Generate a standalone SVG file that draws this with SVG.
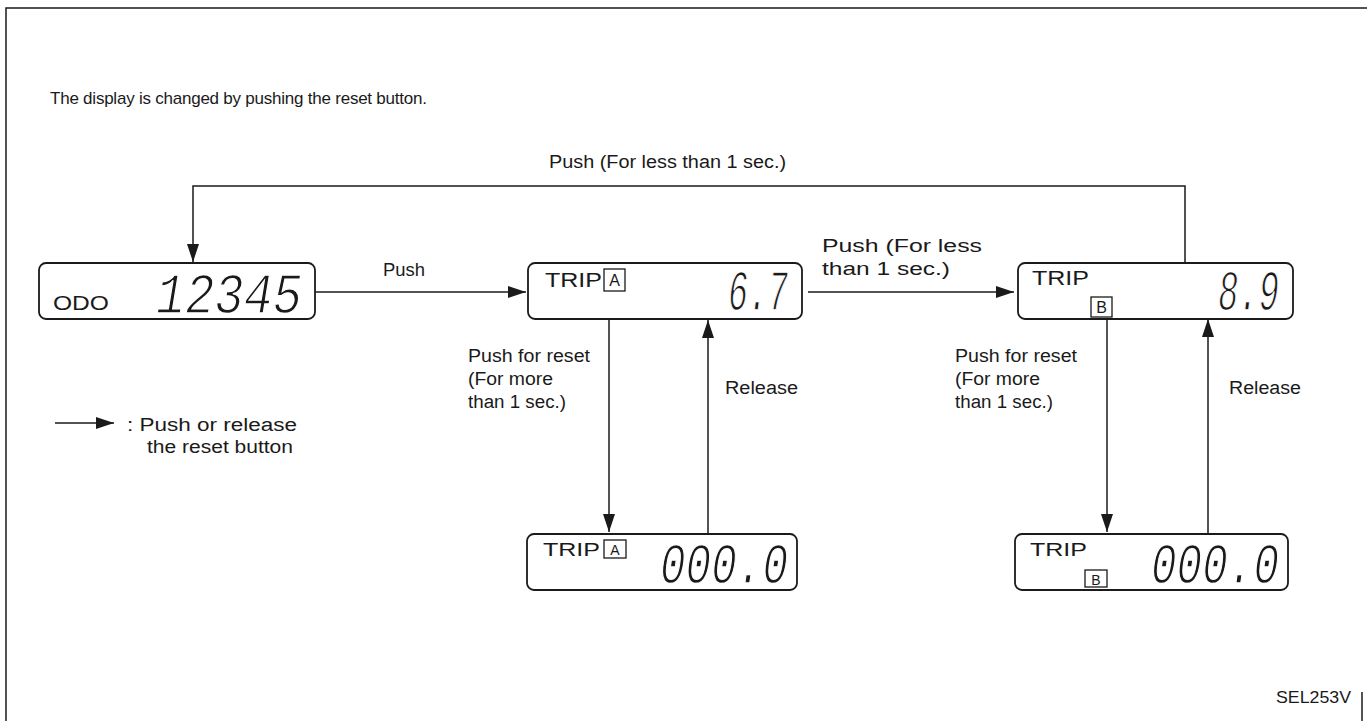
<svg xmlns="http://www.w3.org/2000/svg" width="1367" height="721" viewBox="0 0 1367 721">
<defs>
<marker id="arr" markerUnits="userSpaceOnUse" markerWidth="18" markerHeight="12" refX="18" refY="6" orient="auto">
<path d="M0,0 L18,6 L0,12 z" fill="#1a1a1a"/>
</marker>
<style>
.t{font-family:"Liberation Sans",Arial,Helvetica,sans-serif;fill:#1a1a1a;}
.lbl{font-size:18px;}
.box{fill:#fff;stroke:#1a1a1a;stroke-width:1.8;}
.seg{font-family:"Liberation Mono","DejaVu Sans Mono",monospace;font-style:italic;font-size:58px;fill:#1a1a1a;stroke:#fff;stroke-width:1.4;}
.tag{fill:none;stroke:#1a1a1a;stroke-width:1.3;}
.ln{fill:none;stroke:#1a1a1a;stroke-width:1.5;}
</style>
</defs>
<rect width="1367" height="721" fill="#fff"/>
<g id="frame">
<path class="ln" d="M6,721 V8 H1367"/>
<path class="ln" d="M1362,692 V721"/>
</g>
<text class="t" x="50" y="104" font-size="17" textLength="377" lengthAdjust="spacing">The display is changed by pushing the reset button.</text>
<g id="connectors">
<path class="ln" d="M315,292 H526" marker-end="url(#arr)"/>
<path class="ln" d="M808,292 H1014" marker-end="url(#arr)"/>
<path class="ln" d="M1185,263 V186 H193 V262" marker-end="url(#arr)"/>
<path class="ln" d="M609,319 V532" marker-end="url(#arr)"/>
<path class="ln" d="M708,534 V320" marker-end="url(#arr)"/>
<path class="ln" d="M1107,318 V532" marker-end="url(#arr)"/>
<path class="ln" d="M1208,534 V319" marker-end="url(#arr)"/>
<text class="t lbl" x="549" y="168" textLength="237" lengthAdjust="spacingAndGlyphs">Push (For less than 1 sec.)</text>
<text class="t lbl" x="383" y="276" textLength="42" lengthAdjust="spacingAndGlyphs">Push</text>
<text class="t lbl" x="822" y="252" textLength="160" lengthAdjust="spacingAndGlyphs">Push (For less</text>
<text class="t lbl" x="822" y="275" textLength="128" lengthAdjust="spacingAndGlyphs">than 1 sec.)</text>
<text class="t lbl" x="468" y="362" textLength="122" lengthAdjust="spacingAndGlyphs">Push for reset</text>
<text class="t lbl" x="468" y="385" textLength="85" lengthAdjust="spacingAndGlyphs">(For more</text>
<text class="t lbl" x="468" y="408" textLength="98" lengthAdjust="spacingAndGlyphs">than 1 sec.)</text>
<text class="t lbl" x="725" y="394" textLength="73" lengthAdjust="spacingAndGlyphs">Release</text>
<text class="t lbl" x="955" y="362" textLength="122" lengthAdjust="spacingAndGlyphs">Push for reset</text>
<text class="t lbl" x="955" y="385" textLength="85" lengthAdjust="spacingAndGlyphs">(For more</text>
<text class="t lbl" x="955" y="408" textLength="98" lengthAdjust="spacingAndGlyphs">than 1 sec.)</text>
<text class="t lbl" x="1229" y="394" textLength="72" lengthAdjust="spacingAndGlyphs">Release</text>
</g>
<g id="legend">
<path class="ln" d="M55,423 H114" marker-end="url(#arr)"/>
<text class="t lbl" x="127" y="431" textLength="170" lengthAdjust="spacingAndGlyphs">: Push or release</text>
<text class="t lbl" x="147" y="453" textLength="146" lengthAdjust="spacingAndGlyphs">the reset button</text>
</g>
<g id="node-odo">
<rect class="box" x="39" y="263" width="276" height="56" rx="7"/>
<text class="t" x="53" y="310" font-size="20" textLength="56" lengthAdjust="spacingAndGlyphs">ODO</text>
<text class="seg" x="156" y="313" textLength="146" lengthAdjust="spacingAndGlyphs">12345</text>
</g>
<g id="node-tripA">
<rect class="box" x="528" y="263" width="274" height="56" rx="7"/>
<text class="t" x="545" y="287" font-size="20" textLength="57" lengthAdjust="spacingAndGlyphs">TRIP</text>
<rect class="tag" x="604" y="269" width="21" height="22"/>
<text class="t" x="614.5" y="286" font-size="16" text-anchor="middle">A</text>
<text class="seg" x="728" y="310" textLength="60" lengthAdjust="spacingAndGlyphs">6.7</text>
</g>
<g id="node-tripB">
<rect class="box" x="1018" y="263" width="275" height="56" rx="7"/>
<text class="t" x="1032" y="285" font-size="20" textLength="57" lengthAdjust="spacingAndGlyphs">TRIP</text>
<rect class="tag" x="1091" y="297" width="21" height="20"/>
<text class="t" x="1101.5" y="313" font-size="16" text-anchor="middle">B</text>
<text class="seg" x="1218" y="310" textLength="61" lengthAdjust="spacingAndGlyphs">8.9</text>
</g>
<g id="node-tripA-reset">
<rect class="box" x="527" y="534" width="270" height="56" rx="7"/>
<text class="t" x="543" y="556" font-size="19" textLength="57" lengthAdjust="spacingAndGlyphs">TRIP</text>
<rect class="tag" x="604" y="540" width="22" height="18"/>
<text class="t" x="615" y="555" font-size="14" text-anchor="middle">A</text>
<text class="seg" x="660" y="583" textLength="128" lengthAdjust="spacingAndGlyphs">000.0</text>
</g>
<g id="node-tripB-reset">
<rect class="box" x="1015" y="534" width="273" height="56" rx="7"/>
<text class="t" x="1030" y="556" font-size="19" textLength="57" lengthAdjust="spacingAndGlyphs">TRIP</text>
<rect class="tag" x="1085" y="570" width="22" height="17"/>
<text class="t" x="1096" y="585" font-size="14" text-anchor="middle">B</text>
<text class="seg" x="1151" y="583" textLength="128" lengthAdjust="spacingAndGlyphs">000.0</text>
</g>
<text class="t" x="1276" y="703" font-size="17" textLength="75" lengthAdjust="spacingAndGlyphs">SEL253V</text>
</svg>
